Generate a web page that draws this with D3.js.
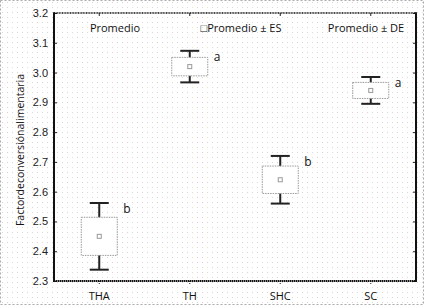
<!DOCTYPE html>
<html>
<head>
<meta charset="utf-8">
<script src="https://cdn.jsdelivr.net/npm/d3@7"></script>
<style>
  body { margin: 0; background: #fff; }
  svg { display: block; }
</style>
</head>
<body>
<div id="chart"></div>
<script>
// grupos y estadisticos
const categories = ['THA', 'TH', 'SHC', 'SC'];
const means = [2.45, 3.02, 2.64, 2.94];
const se = [0.064, 0.031, 0.046, 0.027];
const sd = [0.112, 0.053, 0.080, 0.045];
const letters = ['b', 'a', 'b', 'a'];
const yTicks = [2.3, 2.4, 2.5, 2.6, 2.7, 2.8, 2.9, 3.0, 3.1, 3.2];
const legendItems = ['Promedio', '\u25A1Promedio \u00B1 ES', 'Promedio \u00B1 DE'];

const width = 427, height = 305;
const margin = { top: 13, right: 11, bottom: 24, left: 54 };
const innerW = width - margin.left - margin.right,
  innerH = height - margin.top - margin.bottom;

const rows = categories.map((c, i) => ({
  name: c, mean: means[i], se: se[i], sd: sd[i], letter: letters[i]
}));

const svg = d3.select('#chart').append('svg')
  .attr('width', width)
  .attr('height', height);

// fondo punteado
const defs = svg.append('defs');
const pat = defs.append('pattern')
  .attr('id', 'dots')
  .attr('width', 5).attr('height', 5)
  .attr('patternUnits', 'userSpaceOnUse');
pat.append('rect').attr('x', 2).attr('y', 2).attr('width', 1).attr('height', 1).attr('fill', '#d8d8d8');
const pat2 = defs.append('pattern')
  .attr('id', 'dots2')
  .attr('width', 15).attr('height', 10)
  .attr('patternUnits', 'userSpaceOnUse');
pat2.append('rect').attr('x', 7).attr('y', 2).attr('width', 1).attr('height', 1).attr('fill', '#f0c8c8');
pat2.append('rect').attr('x', 12).attr('y', 7).attr('width', 1).attr('height', 1).attr('fill', '#efe4c0');

svg.append('rect').attr('width', width).attr('height', height).attr('fill', '#fff');
svg.append('rect').attr('width', width).attr('height', height).attr('fill', 'url(#dots)');
svg.append('rect').attr('width', width).attr('height', height).attr('fill', 'url(#dots2)');
svg.append('rect')
  .attr('x', 0.5).attr('y', 0.5)
  .attr('width', width - 4).attr('height', height - 1)
  .attr('fill', 'none')
  .attr('stroke', '#aaa')
  .attr('stroke-dasharray', '2,2');

const g = svg.append('g')
  .attr('transform', `translate(${margin.left},${margin.top})`);

const x = d3.scaleBand()
  .domain(categories)
  .range([0, innerW])
  .padding(0);

const y = d3.scaleLinear()
  .domain([2.3, 3.2])
  .range([innerH, 0]);

const boxW = 36, capW = 19;
const cx = d => x(d.name) + x.bandwidth() / 2;

// ejes
const font = '"Liberation Sans", Arial, sans-serif';
const lblFont = '"Open Sans", sans-serif';
const yAxis = g.append('g')
  .call(d3.axisLeft(y).tickValues(yTicks).tickFormat(d3.format('.1f')).tickSize(-3).tickPadding(6));
yAxis.select('.domain').remove();
yAxis.selectAll('line').attr('stroke', '#222');
yAxis.selectAll('text').attr('font-family', font).attr('font-size', 11).attr('fill', '#222');

const yAxisR = g.append('g')
  .attr('transform', `translate(${innerW},0)`)
  .call(d3.axisRight(y).tickValues(yTicks).tickSize(-3).tickFormat(''));
yAxisR.select('.domain').remove();
yAxisR.selectAll('line').attr('stroke', '#222');

const xAxis = g.append('g')
  .attr('transform', `translate(0,${innerH})`)
  .call(d3.axisBottom(x).tickSize(3).tickPadding(8));
xAxis.select('.domain').remove();
xAxis.selectAll('line').attr('stroke', '#222').attr('stroke-dasharray', '1,1');
xAxis.selectAll('text').attr('font-family', lblFont).attr('font-size', 11).attr('fill', '#111');

const xAxisT = g.append('g')
  .call(d3.axisBottom(x).tickSize(3).tickFormat(''));
xAxisT.select('.domain').remove();
xAxisT.selectAll('line').attr('stroke', '#222');

// marco
g.append('line').attr('x1', 0).attr('x2', innerW).attr('y1', 0).attr('y2', 0)
  .attr('stroke', '#111').attr('stroke-width', 1.6).attr('stroke-dasharray', '1,0.6');
g.append('line').attr('x1', 0).attr('x2', innerW).attr('y1', innerH).attr('y2', innerH)
  .attr('stroke', '#111').attr('stroke-width', 2.2).attr('stroke-dasharray', '1.5,0.5');
g.append('line').attr('x1', 0).attr('x2', 0).attr('y1', -0.8).attr('y2', innerH + 1)
  .attr('stroke', '#111').attr('stroke-width', 2);
g.append('line').attr('x1', innerW).attr('x2', innerW).attr('y1', -0.8).attr('y2', innerH + 1)
  .attr('stroke', '#111').attr('stroke-width', 2);

// etiqueta eje y
svg.append('text')
  .attr('transform', `translate(24,${margin.top + innerH / 2 + 3}) rotate(-90)`)
  .attr('text-anchor', 'middle')
  .attr('font-family', lblFont)
  .attr('font-size', 10.5)
  .attr('fill', '#111')
  .text('Factordeconversiónalimentaria');

// leyenda
const legendX = [115, 241, 366];
svg.selectAll('text.legend')
  .data(legendItems)
  .enter().append('text')
  .attr('class', 'legend')
  .attr('x', (d, i) => legendX[i])
  .attr('y', 32)
  .attr('text-anchor', 'middle')
  .attr('font-family', lblFont)
  .attr('font-size', 11)
  .attr('fill', '#111')
  .text(d => d);

// bigotes (DE)
const wh = g.append('g').attr('stroke', '#222').attr('stroke-width', 2);
wh.selectAll('line.stem')
  .data(rows).enter().append('line')
  .attr('x1', cx).attr('x2', cx)
  .attr('y1', d => y(d.mean + d.sd)).attr('y2', d => y(d.mean - d.sd));
wh.selectAll('line.capTop')
  .data(rows).enter().append('line')
  .attr('x1', d => cx(d) - capW / 2).attr('x2', d => cx(d) + capW / 2)
  .attr('y1', d => y(d.mean + d.sd)).attr('y2', d => y(d.mean + d.sd));
wh.selectAll('line.capBot')
  .data(rows).enter().append('line')
  .attr('x1', d => cx(d) - capW / 2).attr('x2', d => cx(d) + capW / 2)
  .attr('y1', d => y(d.mean - d.sd)).attr('y2', d => y(d.mean - d.sd));

// cajas (ES)
g.selectAll('rect.box')
  .data(rows).enter().append('rect')
  .attr('class', 'box')
  .attr('x', d => cx(d) - boxW / 2)
  .attr('y', d => y(d.mean + d.se))
  .attr('width', boxW)
  .attr('height', d => y(d.mean - d.se) - y(d.mean + d.se))
  .attr('fill', '#fff')
  .attr('stroke', '#999')
  .attr('stroke-dasharray', '1.5,1');

// promedio
g.selectAll('rect.mean')
  .data(rows).enter().append('rect')
  .attr('x', d => cx(d) - 2)
  .attr('y', d => y(d.mean) - 2)
  .attr('width', 4).attr('height', 4)
  .attr('fill', '#fff')
  .attr('stroke', '#999');

// letras
g.selectAll('text.letter')
  .data(rows).enter().append('text')
  .attr('x', d => cx(d) + 24)
  .attr('y', d => y(d.mean + d.sd) + 10)
  .attr('font-family', lblFont)
  .attr('font-size', 12)
  .attr('fill', '#111')
  .text(d => d.letter);
</script>
</body>
</html>
